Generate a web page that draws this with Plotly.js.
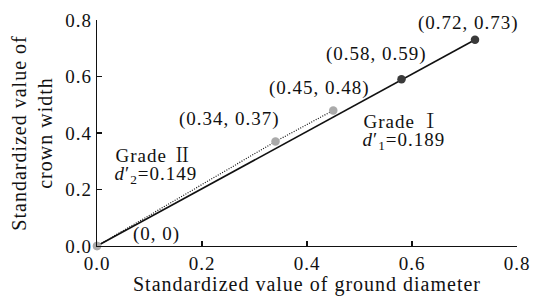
<!DOCTYPE html>
<html>
<head>
<meta charset="utf-8">
<script src="https://cdn.plot.ly/plotly-3.0.1.min.js"></script>
<style>
html,body{margin:0;padding:0;background:#fff;}
#chart{width:535px;height:296px;}
#chart text{letter-spacing:1px;}
</style>
</head>
<body>
<div id="chart"></div>
<script>
// Grade I (solid line, dark markers)
const gradeIX = [0, 0.58, 0.72];
const gradeIY = [0, 0.59, 0.73];
// Grade II (dotted line, grey markers)
const gradeIIX = [0, 0.34, 0.45];
const gradeIIY = [0, 0.37, 0.48];
// Point labels
const labelTexts = ["(0.72, 0.73)", "(0.58, 0.59)", "(0.45, 0.48)", "(0.34, 0.37)", "(0, 0)"];
const labelX = [0.707, 0.533, 0.423, 0.253, 0.114];
const labelY = [0.791, 0.678, 0.561, 0.451, 0.044];
const gradeLabels = ["Grade Ⅰ", "<i>d</i>′<sub>1</sub>=0.189", "Grade Ⅱ", "<i>d</i>′<sub>2</sub>=0.149"];
const gradeLabelX = [0.511, 0.511, 0.039, 0.039];
const gradeLabelY = [0.440, 0.370, 0.320, 0.250];
const tickVals = [0, 0.2, 0.4, 0.6, 0.8];
const tickText = ["0.0", "0.2", "0.4", "0.6", "0.8"];

const FONT = "Liberation Serif, Noto Serif CJK SC, serif";

const traces = [
  {
    x: gradeIX, y: gradeIY, type: "scatter", mode: "lines+markers",
    line: {color: "#111", width: 1.6},
    marker: {color: ["#aaaaaa", "#3a3a3a", "#3a3a3a"], size: 8.5},
    showlegend: false, hoverinfo: "skip", cliponaxis: false
  },
  {
    x: gradeIIX, y: gradeIIY, type: "scatter", mode: "lines+markers",
    line: {color: "#111", width: 1.2, dash: "1px,1.5px"},
    marker: {color: "#aaaaaa", size: 8.5},
    showlegend: false, hoverinfo: "skip", cliponaxis: false
  }
];

const annotations = [];
labelTexts.forEach((t, i) => annotations.push({
  x: labelX[i], y: labelY[i], xref: "x", yref: "y", text: t, showarrow: false,
  xanchor: "center", yanchor: "middle", font: {family: FONT, size: 19, color: "#111"}
}));
gradeLabels.forEach((t, i) => annotations.push({
  x: gradeLabelX[i], y: gradeLabelY[i], xref: "x", yref: "y", text: t, showarrow: false,
  xanchor: "left", yanchor: "middle", font: {family: FONT, size: 19, color: "#111"}
}));

const layout = {
  width: 535, height: 296,
  margin: {l: 97, r: 18, t: 20, b: 50, pad: 0},
  paper_bgcolor: "#fff", plot_bgcolor: "#fff",
  font: {family: FONT, size: 19, color: "#111"},
  showlegend: false,
  xaxis: {
    range: [0, 0.8], tickvals: tickVals, ticktext: tickText,
    ticks: "inside", ticklen: 5, tickwidth: 1.3, tickcolor: "#111",
    showline: true, linecolor: "#111", linewidth: 1.3, mirror: false,
    showgrid: false, zeroline: false,
    tickfont: {family: FONT, size: 19, color: "#111"},
    title: {text: "Standardized value of ground diameter", font: {family: FONT, size: 20, color: "#111"}, standoff: 6}
  },
  yaxis: {
    range: [0, 0.8], tickvals: tickVals, ticktext: tickText,
    ticks: "inside", ticklen: 5, tickwidth: 1.3, tickcolor: "#111",
    showline: true, linecolor: "#111", linewidth: 1.3, mirror: false,
    showgrid: false, zeroline: false,
    tickfont: {family: FONT, size: 19, color: "#111"},
    title: {text: "Standardized value of<br>crown width", font: {family: FONT, size: 20, color: "#111"}, standoff: 10}
  },
  annotations: annotations
};

Plotly.newPlot("chart", traces, layout, {displayModeBar: false, staticPlot: true});
</script>
</body>
</html>
